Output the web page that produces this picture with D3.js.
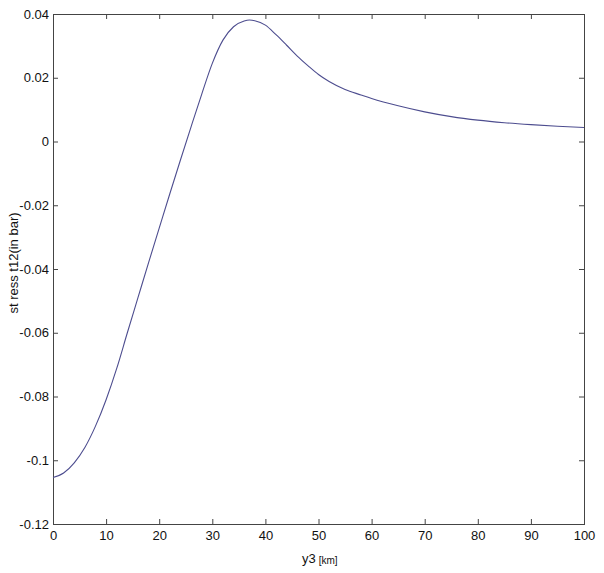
<!DOCTYPE html>
<html>
<head>
<meta charset="utf-8">
<script src="https://cdn.jsdelivr.net/npm/d3@7"></script>
<style>
    body { margin: 0; background: #fff; }
    svg { display: block; font-family: "Liberation Sans", Arial, sans-serif; }
</style>
</head>
<body>
<svg width="604" height="573"></svg>
<script>
// distance y3 along the profile
var y3 = [0, 2, 4, 6, 8, 10, 12, 14, 16, 18, 20, 22, 24, 26, 28, 30, 32, 34, 36, 37, 38,
    40, 42, 44, 46, 48, 50, 52, 55, 58, 60, 65, 70, 75, 80, 85, 90, 95, 100];
// stress t12 (bar)
var stress = [-0.1054, -0.1040, -0.1008, -0.0960, -0.0893, -0.0810, -0.0712, -0.0600, -0.0490,
    -0.0380, -0.0272, -0.0164, -0.0058, 0.0046, 0.0148, 0.0245, 0.0318, 0.0360, 0.0378, 0.0381,
    0.0379, 0.0365, 0.0335, 0.0302, 0.0268, 0.0238, 0.0210, 0.0188, 0.0163, 0.0146, 0.0135,
    0.0112, 0.0093, 0.0078, 0.0067, 0.0059, 0.0053, 0.0048, 0.0044];

var xTicks = [0, 10, 20, 30, 40, 50, 60, 70, 80, 90, 100];
var yTicks = [-0.12, -0.1, -0.08, -0.06, -0.04, -0.02, 0, 0.02, 0.04];

// plot box (window.top is reserved, so prefixed names)
var boxLeft = 53, boxRight = 584, boxTop = 14, boxBottom = 524;
var axisColor = "#444";

function draw() {
    var svg = d3.select("svg");
    var x = d3.scaleLinear().domain([0, 100]).range([boxLeft, boxRight]);
    var y = d3.scaleLinear().domain([-0.12, 0.04]).range([boxBottom, boxTop]);
    var fmt = function(d) { return String(+d.toFixed(2)); };

    // bottom + left axes with labels, ticks pointing inward
    var gx = svg.append("g")
        .attr("transform", "translate(0," + boxBottom + ")")
        .call(d3.axisBottom(x).tickValues(xTicks).tickSizeInner(-5).tickSizeOuter(0)
            .tickPadding(7).tickFormat(fmt));
    var gy = svg.append("g")
        .attr("transform", "translate(" + boxLeft + ",0)")
        .call(d3.axisLeft(y).tickValues(yTicks).tickSizeInner(-5).tickSizeOuter(0)
            .tickPadding(4).tickFormat(fmt));
    // top + right ticks only
    var gt = svg.append("g")
        .attr("transform", "translate(0," + boxTop + ")")
        .call(d3.axisTop(x).tickValues(xTicks).tickSizeInner(-5).tickSizeOuter(0)
            .tickFormat(""));
    var gr = svg.append("g")
        .attr("transform", "translate(" + boxRight + ",0)")
        .call(d3.axisRight(y).tickValues(yTicks).tickSizeInner(-5).tickSizeOuter(0)
            .tickFormat(""));

    [gx, gy, gt, gr].forEach(function(g) {
        g.select(".domain").remove();
        g.selectAll("line").attr("stroke", axisColor);
        g.selectAll("text")
            .attr("fill", "#111")
            .style("font-family", "Liberation Sans, Arial, sans-serif")
            .style("font-size", "13px");
    });

    svg.append("rect")
        .attr("x", boxLeft + 0.5)
        .attr("y", boxTop + 0.5)
        .attr("width", boxRight - boxLeft)
        .attr("height", boxBottom - boxTop)
        .attr("fill", "none")
        .attr("stroke", axisColor)
        .attr("stroke-width", 1);

    var pts = y3.map(function(d, i) { return [d, stress[i]]; });
    svg.append("path")
        .datum(pts)
        .attr("fill", "none")
        .attr("stroke", "#4d4d8f")
        .attr("stroke-width", 1.1)
        .attr("d", d3.line()
            .x(function(d) { return x(d[0]); })
            .y(function(d) { return y(d[1]); })
            .curve(d3.curveMonotoneX));

    // axis titles
    var xl = svg.append("text")
        .attr("x", 302)
        .attr("y", 563)
        .attr("fill", "#111")
        .style("font-size", "13px");
    xl.append("tspan").text("y3");
    xl.append("tspan").attr("dx", 3).attr("dy", 1).style("font-size", "10px").text("[km]");

    svg.append("text")
        .attr("transform", "translate(18,263) rotate(-90)")
        .attr("text-anchor", "middle")
        .attr("fill", "#111")
        .style("font-size", "13px")
        .text("st ress t12(in bar)");
}

draw();
</script>
</body>
</html>
